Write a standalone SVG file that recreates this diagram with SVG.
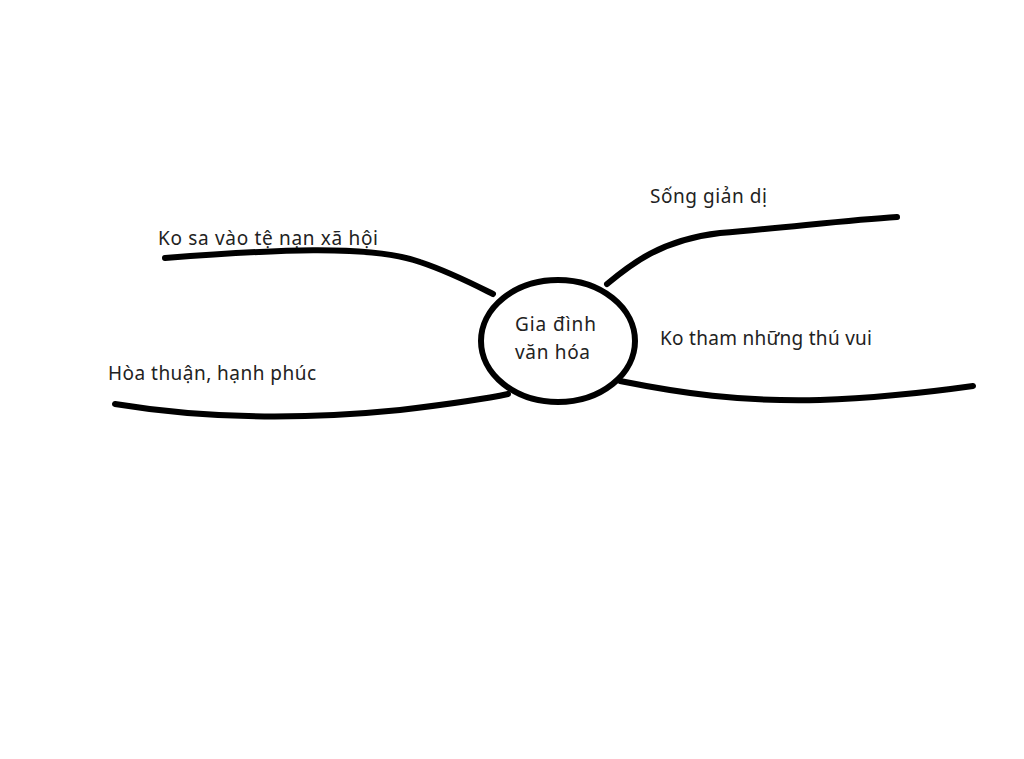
<svg xmlns="http://www.w3.org/2000/svg" width="1024" height="759" viewBox="0 0 1024 759">
<style>
.ln{fill:none;stroke:#000;stroke-width:6;stroke-linecap:round;stroke-linejoin:round}
.t{font-family:"Noto Sans","Open Sans","DejaVu Sans",sans-serif;font-size:19px;fill:#222}
</style>
<rect width="1024" height="759" fill="#fff"/>
<g id="connectors">
<path class="ln" d="M165,258 C270,250 370,244 420,262 C450,272 475,285 493,294"/>
<path class="ln" d="M115,404 C200,418 300,420 400,410 C450,404 490,398 508,394"/>
<path class="ln" d="M607,284 C630,265 660,240 720,233 C800,226 850,220 897,217"/>
<path class="ln" d="M620,381 C680,393 740,402 820,400 C880,398 930,392 973,386"/>
</g>
<g id="center">
<ellipse cx="558" cy="341" rx="77" ry="61" fill="#fff" stroke="#000" stroke-width="6"/>
<text class="t" x="515" y="331" textLength="81">Gia đình</text>
<text class="t" x="515" y="359" textLength="75">văn hóa</text>
</g>
<g id="n1"><text class="t" x="158" y="245" textLength="220">Ko sa vào tệ nạn xã hội</text></g>
<g id="n2"><text class="t" x="108" y="380" textLength="208">Hòa thuận, hạnh phúc</text></g>
<g id="n3"><text class="t" x="650" y="203" textLength="117">Sống giản dị</text></g>
<g id="n4"><text class="t" x="660" y="345" textLength="212">Ko tham những thú vui</text></g>
</svg>
